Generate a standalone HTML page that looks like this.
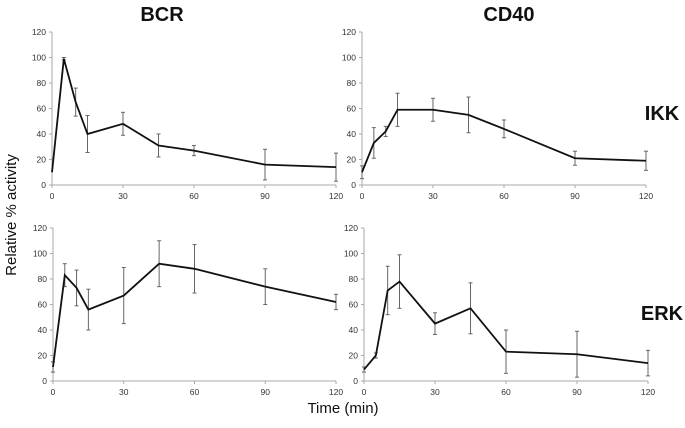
<!DOCTYPE html>
<html><head><meta charset="utf-8"><style>
body{margin:0;background:#fff;width:685px;height:423px;overflow:hidden}
svg text{font-family:"Liberation Sans",Arial,sans-serif}
</style></head><body>
<svg id="c" width="685" height="423"></svg>
<script>
const times=[0,5,10,15,30,45,60,90,120];
const xTicks=[0,30,60,90,120];
const yTicks=[0,20,40,60,80,100,120];
const bcrIkk=[10,99,65,40,48,31,27,16,14];
const bcrIkkErr=[0,1,11,14.5,9,9,4,12,11];
const cd40Ikk=[10,33,42,59,59,55,44,21,19];
const cd40IkkErr=[5,12,4,13,9,14,7,5.5,7.5];
const bcrErk=[11,83,73,56,67,92,88,74,62];
const bcrErkErr=[4,9,14,16,22,18,19,14,6];
const cd40Erk=[9,20,71,78,45,57,23,21,14];
const cd40ErkErr=[2,2,19,21,8.5,20,17,18,10];
const svg=document.getElementById('c');
const NS='http://www.w3.org/2000/svg';
function mk(t,a,p){const e=document.createElementNS(NS,t);for(const k in a)e.setAttribute(k,a[k]);(p||svg).appendChild(e);return e;}
const panels=[
 {name:'bcr-ikk',x0:52,x1:336,y0:185,vals:bcrIkk,err:bcrIkkErr},
 {name:'cd40-ikk',x0:362,x1:646,y0:185,vals:cd40Ikk,err:cd40IkkErr},
 {name:'bcr-erk',x0:53,x1:336,y0:381,vals:bcrErk,err:bcrErkErr},
 {name:'cd40-erk',x0:364,x1:648,y0:381,vals:cd40Erk,err:cd40ErkErr}];
panels.forEach(p=>{
 const g=mk('g',{});
 
 
 const X=t=>p.x0+(p.x1-p.x0)*t/120, Y=v=>p.y0-v*1.275;
 mk('line',{x1:p.x0,y1:Y(0),x2:p.x1,y2:Y(0),stroke:'#aaa','stroke-width':1},g);
 mk('line',{x1:p.x0,y1:Y(0),x2:p.x0,y2:Y(120),stroke:'#aaa','stroke-width':1},g);
 yTicks.forEach(v=>{mk('line',{x1:p.x0-3,x2:p.x0,y1:Y(v),y2:Y(v),stroke:'#aaa'},g);
  const t=mk('text',{x:p.x0-6,y:Y(v)+3,'font-size':8.5,fill:'#333','text-anchor':'end'},g);t.textContent=v;});
 xTicks.forEach(v=>{mk('line',{x1:X(v),x2:X(v),y1:Y(0),y2:Y(0)+3,stroke:'#aaa'},g);
  const t=mk('text',{x:X(v),y:Y(0)+14,'font-size':8.5,fill:'#333','text-anchor':'middle'},g);t.textContent=v;});
 times.forEach((t,i)=>{const e=p.err[i];if(!e)return;const x=X(t);
  mk('line',{x1:x,x2:x,y1:Y(p.vals[i]-e),y2:Y(p.vals[i]+e),stroke:'#666','stroke-width':1},g);
  mk('line',{x1:x-2,x2:x+2,y1:Y(p.vals[i]-e),y2:Y(p.vals[i]-e),stroke:'#666'},g);
  mk('line',{x1:x-2,x2:x+2,y1:Y(p.vals[i]+e),y2:Y(p.vals[i]+e),stroke:'#666'},g);});
 const pl=mk('polyline',{points:times.map((t,i)=>X(t)+','+Y(p.vals[i])).join(' '),fill:'none',stroke:'#111','stroke-width':1.8},g);
 
 
});
function label(txt,x,y,s,name,extra){const t=mk('text',Object.assign({x:x,y:y,'font-size':s,'text-anchor':'middle',fill:'#111'},extra||{}));t.textContent=txt;
 return t;}
label('BCR',162,21,20,'bcr-title',{'font-weight':'bold'});
label('CD40',509,21,20,'cd40-title',{'font-weight':'bold'});
label('IKK',662,120,20,'ikk-label',{'font-weight':'bold'});
label('ERK',662,320,20,'erk-label',{'font-weight':'bold'});
label('Time (min)',343,413,15,'x-axis-title');
label('Relative % activity',16,215,15,'y-axis-title',{transform:'rotate(-90 16 215)'});
</script>
</body></html>
